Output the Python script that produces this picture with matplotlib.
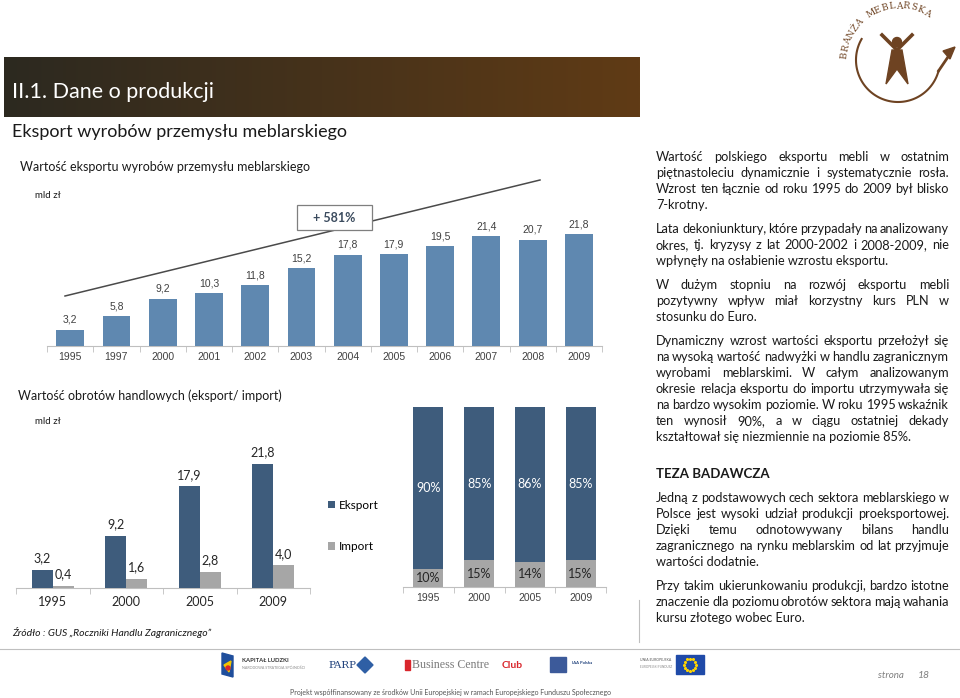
import numpy as np
import matplotlib
matplotlib.use("Agg")
import matplotlib.pyplot as plt
from matplotlib.patches import Rectangle, Circle, Polygon

# ---- data ----
years_all = ["1995", "1997", "2000", "2001", "2002", "2003",
             "2004", "2005", "2006", "2007", "2008", "2009"]
export_all = [3.2, 5.8, 9.2, 10.3, 11.8, 15.2, 17.8, 17.9, 19.5, 21.4, 20.7, 21.8]

years_sel = ["1995", "2000", "2005", "2009"]
export_sel = [3.2, 9.2, 17.9, 21.8]
import_sel = [0.4, 1.6, 2.8, 4.0]

share_export = [90, 85, 86, 85]
share_import = [10, 15, 14, 15]

growth_label = "+ 581%"

# ---- style ----
W, H = 960, 698
FAM = ["Lato", "DejaVu Sans"]
ARIAL = ["Liberation Sans", "DejaVu Sans"]
C_TOP = "#5f88b0"
C_EXP = "#3e5c7c"
C_IMP = "#a6a6a6"
C_AXIS = "#bfbfbf"
BROWN = "#6e4322"
TXT = "#1a1a1a"

plt.rcParams["font.family"] = FAM

fig = plt.figure(figsize=(W / 100, H / 100), dpi=100)
fig.patch.set_facecolor("white")

# background axes in pixel coordinates for slide decoration and text
bg = fig.add_axes([0, 0, 1, 1], zorder=0)
bg.set_xlim(0, W)
bg.set_ylim(H, 0)
bg.axis("off")
renderer = fig.canvas.get_renderer()


def px_axes(left, top, right, bottom):
    ax = fig.add_axes([left / W, 1 - bottom / H, (right - left) / W, (bottom - top) / H], zorder=2)
    ax.set_facecolor("none")
    for s in ["top", "right", "left"]:
        ax.spines[s].set_visible(False)
    ax.spines["bottom"].set_color(C_AXIS)
    ax.set_yticks([])
    return ax


def fmt(v):
    return f"{v:.1f}".replace(".", ",")


def word_width(s, **kw):
    t = bg.text(0, 0, s, **kw)
    w = t.get_window_extent(renderer).width
    t.remove()
    return w


def justify(lines, x0, x1, y0, dy, **kw):
    for i, line in enumerate(lines):
        y = y0 + i * dy
        words = line.split()
        if i == len(lines) - 1 or len(words) == 1:
            bg.text(x0, y, line, va="baseline", **kw)
            continue
        ws = [word_width(w, **kw) for w in words]
        gap = (x1 - x0 - sum(ws)) / (len(words) - 1)
        x = x0
        for w, wd in zip(words, ws):
            bg.text(x, y, w, va="baseline", **kw)
            x += wd + gap


# ---- header ----
grad = np.linspace(0, 1, 256)[None, :, None]
c0 = np.array([0x2c, 0x29, 0x20]) / 255
c1 = np.array([0x60, 0x3b, 0x15]) / 255
bg.imshow(c0 + (c1 - c0) * grad, extent=[4, 640, 117, 57], aspect="auto", zorder=1)
bg.text(12, 92, "II.1. Dane o produkcji", color="white", fontsize=15.5, va="center", zorder=2)
bg.text(12, 132, "Eksport wyrobów przemysłu meblarskiego", color=TXT, fontsize=13, va="center")
bg.text(20, 167, "Wartość eksportu wyrobów przemysłu meblarskiego", color=TXT, fontsize=9, va="center")
bg.text(35, 195, "mld zł", color=TXT, fontsize=7, va="center")

# ---- top-right logo ----
cx, cy, r = 898, 60, 42
th = np.radians(np.linspace(150, 345, 120))
bg.plot(cx + r * np.cos(th), cy - r * np.sin(th), color=BROWN, lw=1.5)
bg.plot([cx + r * np.cos(np.radians(345)), 950], [cy - r * np.sin(np.radians(345)), 54], color=BROWN, lw=2)
bg.add_patch(Polygon([[955, 47], [943, 51], [950, 59]], closed=True, color=BROWN))
bg.add_patch(Circle((897, 42), 4.5, color=BROWN))
bg.plot([882, 897, 912], [35, 50, 35], color=BROWN, lw=2.6)
bg.add_patch(Polygon([[892, 50], [902, 50], [908, 84], [897, 69], [886, 84]], closed=True, color=BROWN))
brand = "BRANŻA MEBLARSKA"
angs = np.linspace(173, 61, len(brand))
for ch, a in zip(brand, angs):
    ar = np.radians(a)
    bg.text(900 + 56 * np.cos(ar), 62 - 56 * np.sin(ar), ch, rotation=a - 90, color=BROWN,
            fontsize=6.5, ha="center", va="center", family=["DejaVu Serif"])

# ---- top chart: export value ----
ax1 = px_axes(47, 192, 602, 346)
x1 = np.arange(len(years_all))
bars = ax1.bar(x1, export_all, width=0.6, color=C_TOP, zorder=3)
ax1.bar_label(bars, labels=[fmt(v) for v in export_all], padding=3.5,
              fontsize=7.5, color="#404040", family=ARIAL)
ax1.set_xlim(-0.5, len(years_all) - 0.5)
ax1.set_ylim(0, 30)
ax1.set_xticks(x1)
ax1.set_xticklabels(years_all, fontsize=7.5, color="#404040", family=ARIAL)
ax1.set_xticks(np.arange(-0.5, len(years_all)), minor=True)
ax1.tick_params(axis="x", which="major", length=0, pad=4)
ax1.tick_params(axis="x", which="minor", length=4, color=C_AXIS)

# growth trend line and box
bg.plot([65, 540], [296, 180], color="#4a4a4a", lw=1.1, zorder=3)
bg.add_patch(Rectangle((297, 205), 75, 25, facecolor="white", edgecolor="#7f7f7f", lw=0.9, zorder=4))
bg.text(334.5, 218, growth_label, ha="center", va="center", fontsize=9, fontweight="bold",
        color="#3b4b5e", zorder=5)

# ---- bottom-left chart: export / import ----
bg.text(18, 396, "Wartość obrotów handlowych (eksport/ import)", color=TXT, fontsize=9, va="center")
bg.text(35, 421, "mld zł", color=TXT, fontsize=7, va="center")
ax2 = px_axes(16, 446, 310, 588)
x2 = np.arange(len(years_sel))
bw = 0.285
b_exp = ax2.bar(x2 - bw / 2, export_sel, width=bw, color=C_EXP, label="Eksport", zorder=3)
b_imp = ax2.bar(x2 + bw / 2, import_sel, width=bw, color=C_IMP, label="Import", zorder=3)
ax2.bar_label(b_exp, labels=[fmt(v) for v in export_sel], padding=4, fontsize=9, color="#262626")
ax2.bar_label(b_imp, labels=[fmt(v) for v in import_sel], padding=4, fontsize=9, color="#262626")
ax2.set_xlim(-0.5, len(years_sel) - 0.5)
ax2.set_ylim(0, 25)
ax2.set_xticks(x2)
ax2.set_xticklabels(years_sel, fontsize=9, color="#262626")
ax2.set_xticks(np.arange(-0.5, len(years_sel)), minor=True)
ax2.tick_params(axis="x", which="major", length=0, pad=6)
ax2.tick_params(axis="x", which="minor", length=4, color=C_AXIS)
ax2.legend(loc="center left", bbox_to_anchor=(328 / W, 1 - 526 / H), bbox_transform=fig.transFigure,
           frameon=False, handlelength=0.6, handleheight=0.6, handletextpad=0.3,
           labelspacing=2.6, fontsize=8.5, borderpad=0, borderaxespad=0)

# ---- bottom-middle chart: shares ----
ax3 = px_axes(403, 407, 606, 587)
x3 = np.arange(len(years_sel))
s_imp = ax3.bar(x3, share_import, width=0.59, color=C_IMP, label="Import", zorder=3)
s_exp = ax3.bar(x3, share_export, bottom=share_import, width=0.59, color=C_EXP, label="Eksport", zorder=3)
ax3.bar_label(s_exp, labels=[f"{v}%" for v in share_export], label_type="center", fontsize=9, color="white")
ax3.bar_label(s_imp, labels=[f"{v}%" for v in share_import], label_type="center", fontsize=9, color="#262626")
ax3.set_xlim(-0.5, len(years_sel) - 0.5)
ax3.set_ylim(0, 100)
ax3.set_xticks(x3)
ax3.set_xticklabels(years_sel, fontsize=7.5, color="#404040", family=ARIAL)
ax3.set_xticks(np.arange(-0.5, len(years_sel)), minor=True)
ax3.tick_params(axis="x", which="major", length=0, pad=4)
ax3.tick_params(axis="x", which="minor", length=4, color=C_AXIS)

# ---- right text column ----
tk = dict(fontsize=9.2, color=TXT)
justify(["Wartość polskiego eksportu mebli w ostatnim",
         "piętnastoleciu dynamicznie i systematycznie rosła.",
         "Wzrost ten łącznie od roku 1995 do 2009 był blisko",
         "7-krotny."], 656, 949, 161, 16, **tk)
justify(["Lata dekoniunktury, które przypadały na analizowany",
         "okres, tj. kryzysy z lat 2000-2002 i 2008-2009, nie",
         "wpłynęły na osłabienie wzrostu eksportu."], 656, 949, 233, 16, **tk)
justify(["W dużym stopniu na rozwój eksportu mebli",
         "pozytywny wpływ miał korzystny kurs PLN w",
         "stosunku do Euro."], 656, 949, 289, 16, **tk)
justify(["Dynamiczny wzrost wartości eksportu przełożył się",
         "na wysoką wartość nadwyżki w handlu zagranicznym",
         "wyrobami meblarskimi. W całym analizowanym",
         "okresie relacja eksportu do importu utrzymywała się",
         "na bardzo wysokim poziomie. W roku 1995 wskaźnik",
         "ten wynosił 90%, a w ciągu ostatniej dekady",
         "kształtował się niezmiennie na poziomie 85%."], 656, 949, 345, 16, **tk)
bg.text(656, 478, "TEZA BADAWCZA", fontsize=9.5, fontweight="bold", color=TXT, va="baseline")
justify(["Jedną z podstawowych cech sektora meblarskiego w",
         "Polsce jest wysoki udział produkcji proeksportowej.",
         "Dzięki temu odnotowywany bilans handlu",
         "zagranicznego na rynku meblarskim od lat przyjmuje",
         "wartości dodatnie."], 656, 949, 502, 16, **tk)
justify(["Przy takim ukierunkowaniu produkcji, bardzo istotne",
         "znaczenie dla poziomu obrotów sektora mają wahania",
         "kursu złotego wobec Euro."], 656, 949, 590, 16, **tk)

# ---- source and footer ----
bg.text(12, 633, "Źródło : GUS „Roczniki Handlu Zagranicznego”", fontsize=7.5, style="italic",
        color=TXT, va="center")
bg.plot([639, 639], [600, 642], color=C_AXIS, lw=0.8)
bg.plot([0, 960], [649, 649], color=C_AXIS, lw=0.8)

# footer logos (approximate)
bg.add_patch(Polygon([[222, 653], [233, 656], [233, 677], [222, 674]], closed=True, color="#1f4e9c"))
bg.add_patch(Polygon([[224, 665], [231, 661], [229, 672]], closed=True, color="#f2c500"))
bg.add_patch(Circle((228, 668), 2, color="#d9262c"))
bg.text(242, 661, "KAPITAŁ LUDZKI", fontsize=4.2, fontweight="bold", color="#333333", va="center")
bg.text(242, 668, "NARODOWA STRATEGIA SPÓJNOŚCI", fontsize=2.6, color="#888888", va="center")
bg.text(328, 665, "PARP", fontsize=7.5, family=["DejaVu Serif"], color="#1d3f7a", va="center")
bg.add_patch(Polygon([[357, 665], [365, 657], [373, 665], [365, 673]], closed=True, color="#2f5fa5"))
bg.add_patch(Rectangle((405, 660), 5, 10, color="#d9262c"))
bg.text(412, 665, "Business Centre", fontsize=8.6, family=["Liberation Serif", "DejaVu Serif"],
        color="#7a7a7a", va="center")
bg.text(502, 665, "Club", fontsize=7.5, fontweight="bold", color="#d9262c", va="center")
bg.add_patch(Rectangle((550, 657), 16, 15, color="#3c5a9a"))
bg.text(572, 663, "IAA Polska", fontsize=3, fontweight="bold", color="#1d3f7a", va="center")
bg.text(640, 660, "UNIA EUROPEJSKA", fontsize=2.5, color="#555555", va="center")
bg.text(640, 667, "EUROPEJSKI FUNDUSZ", fontsize=2.2, color="#888888", va="center")
bg.add_patch(Rectangle((676, 655), 28, 19, color="#1f4aa8"))
st = np.radians(np.arange(0, 360, 30))
bg.scatter(690 + 6 * np.cos(st), 664.5 + 6 * np.sin(st), s=1.5, color="#ffd400", zorder=3)
bg.text(878, 676, "strona", fontsize=7, style="italic", color="#7f7f7f", va="center")
bg.text(918, 676, "18", fontsize=7.5, style="italic", color="#7f7f7f", va="center")
bg.text(450, 692, "Projekt współfinansowany ze środków Unii Europejskiej w ramach Europejskiego Funduszu Społecznego",
        fontsize=5, color="#555555", ha="center", va="center")

fig.savefig("out.png", dpi=100)
